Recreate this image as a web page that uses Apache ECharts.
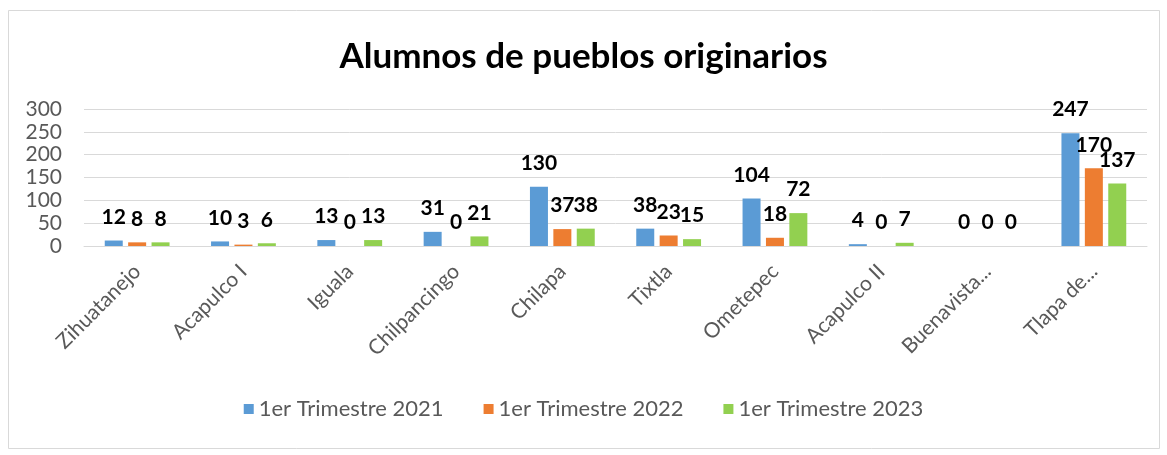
<!DOCTYPE html>
<html>
<head>
<meta charset="utf-8">
<script src="https://cdn.jsdelivr.net/npm/echarts@6/dist/echarts.min.js"></script>
<style>
	body { margin: 0; background: #fff; }
	#chart { width: 1167px; height: 455px; }
</style>
</head>
<body>
<div id="chart"></div>
<script>
var sedes = [ "Zihuatanejo", "Acapulco I", "Iguala", "Chilpancingo", "Chilapa",
		"Tixtla", "Ometepec", "Acapulco II", "Buenavista...", "Tlapa de..." ];
var serieNames = [ "1er Trimestre 2021", "1er Trimestre 2022", "1er Trimestre 2023" ];
var t2021 = [ 12, 10, 13, 31, 130, 38, 104, 4, 0, 247 ];
var t2022 = [ 8, 3, 0, 0, 37, 23, 18, 0, 0, 170 ];
var t2023 = [ 8, 6, 13, 21, 38, 15, 72, 7, 0, 137 ];
var yTicks = [ 0, 50, 100, 150, 200, 250, 300 ];

var myChart = echarts.init(document.getElementById("chart"));

var fontFam = "Lato, 'Open Sans', sans-serif";

function makeSerie(name, data) {
	return {
		name : name,
		type : "bar",
		barWidth : 18,
		barGap : "30%",
		data : data,
		label : {
			show : true,
			position : "top",
			distance : 13,
			fontFamily : fontFam,
			fontWeight : "bold",
			fontSize : 21,
			color : "#000"
		}
	};
}

var option = {
	animation : false,
	backgroundColor : "#fff",
	color : [ "#5B9BD5", "#ED7D31", "#92D050" ],
	title : {
		text : "Alumnos de pueblos originarios",
		left : "center",
		top : 34,
		textStyle : {
			fontFamily : fontFam,
			fontWeight : "bold",
			fontSize : 35,
			color : "#000"
		}
	},
	graphic : [ {
		type : "rect",
		shape : { x : 8.5, y : 10.5, width : 1151, height : 438 },
		style : { fill : "none", stroke : "#D9D9D9", lineWidth : 1 }
	} ],
	legend : {
		bottom : 30,
		left : "center",
		itemWidth : 10,
		itemHeight : 10,
		itemGap : 40,
		icon : "rect",
		textStyle : {
			fontFamily : fontFam,
			fontSize : 22,
			color : "#595959"
		},
		data : serieNames
	},
	grid : {
		left : 84,
		right : 20,
		top : 109,
		bottom : 209
	},
	xAxis : [ {
		type : "category",
		data : sedes,
		axisTick : { show : false },
		axisLine : { lineStyle : { color : "#D9D9D9" } },
		axisLabel : {
			rotate : 45,
			interval : 0,
			margin : 22,
			fontFamily : fontFam,
			fontSize : 21,
			color : "#595959"
		}
	} ],
	yAxis : [ {
		type : "value",
		min : yTicks[0],
		max : yTicks[yTicks.length - 1],
		interval : 50,
		axisLine : { show : false },
		axisTick : { show : false },
		splitLine : { lineStyle : { color : "#D9D9D9" } },
		axisLabel : {
			margin : 22,
			fontFamily : fontFam,
			fontSize : 21,
			color : "#595959"
		}
	} ],
	series : [ makeSerie(serieNames[0], t2021), makeSerie(serieNames[1], t2022),
			makeSerie(serieNames[2], t2023) ]
};
myChart.setOption(option);
</script>
</body>
</html>
